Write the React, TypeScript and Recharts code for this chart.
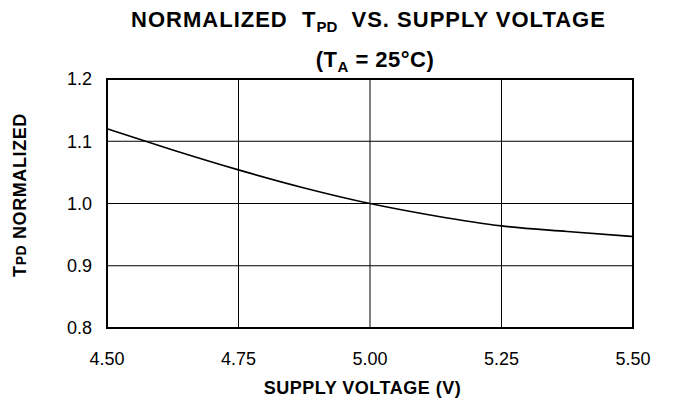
import { LineChart, Line, XAxis, YAxis, CartesianGrid, ReferenceArea } from "recharts";

const voltage = [4.5, 4.625, 4.75, 4.875, 5.0, 5.125, 5.25, 5.375, 5.5];
const tpdNormalized = [1.12, 1.086, 1.054, 1.025, 1.0, 0.98, 0.964, 0.955, 0.947];
const xTicks = [4.5, 4.75, 5.0, 5.25, 5.5];
const yTicks = [0.8, 0.9, 1.0, 1.1, 1.2];

const data = voltage.map((v, i) => ({ v, tpd: tpdNormalized[i] }));

const FONT = "'Liberation Sans', Arial, Helvetica, sans-serif";

export default function App() {
  return (
    <div style={{ position: "absolute", left: 0, top: 0, width: 673, height: 402, background: "#fff", fontFamily: FONT }}>
      <div
        style={{
          position: "absolute",
          left: 0,
          width: 737,
          top: 7,
          textAlign: "center",
          fontSize: 22,
          fontWeight: "bold",
          letterSpacing: 1,
          lineHeight: "26px",
          whiteSpace: "nowrap",
        }}
      >
        NORMALIZED&nbsp; T<sub style={{ fontSize: 15, verticalAlign: -5, letterSpacing: 0 }}>PD</sub>&nbsp; VS. SUPPLY VOLTAGE
      </div>
      <div
        style={{
          position: "absolute",
          left: 0,
          width: 750,
          top: 47,
          textAlign: "center",
          fontSize: 22,
          fontWeight: "bold",
          letterSpacing: 0.5,
          lineHeight: "26px",
          whiteSpace: "nowrap",
        }}
      >
        (T<sub style={{ fontSize: 15, verticalAlign: -5 }}>A</sub> = 25°C)
      </div>
      <LineChart width={673} height={402} data={data} margin={{ top: 79, right: 40, bottom: 44, left: 47 }}>
        <CartesianGrid stroke="#000" strokeWidth={1} />
        <XAxis
          dataKey="v"
          type="number"
          domain={[4.5, 5.5]}
          ticks={xTicks}
          tickFormatter={(t: number) => t.toFixed(2)}
          tickLine={false}
          axisLine={false}
          tickSize={0}
          tickMargin={24}
          height={30}
          tick={{ fill: "#000", fontSize: 18, fontFamily: FONT }}
          interval={0}
        />
        <YAxis
          type="number"
          domain={[0.8, 1.2]}
          ticks={yTicks}
          tickFormatter={(t: number) => t.toFixed(1)}
          tickLine={false}
          axisLine={false}
          tickSize={0}
          tickMargin={15}
          tick={{ fill: "#000", fontSize: 18, fontFamily: FONT }}
          width={60}
          interval={0}
        />
        <ReferenceArea x1={4.5} x2={5.5} y1={0.8} y2={1.2} fill="none" stroke="#000" strokeWidth={2} />
        <Line
          type="monotone"
          dataKey="tpd"
          stroke="#000"
          strokeWidth={1.6}
          dot={false}
          isAnimationActive={false}
        />
      </LineChart>
      <div
        style={{
          position: "absolute",
          left: 0,
          width: 725,
          top: 377,
          textAlign: "center",
          fontSize: 18,
          fontWeight: "bold",
          letterSpacing: 0.5,
          whiteSpace: "nowrap",
          lineHeight: "22px",
        }}
      >
        SUPPLY VOLTAGE (V)
      </div>
      <div
        style={{
          position: "absolute",
          left: 20,
          top: 195,
          transform: "translate(-50%, -50%) rotate(-90deg)",
          fontSize: 18,
          fontWeight: "bold",
          letterSpacing: 0.6,
          whiteSpace: "nowrap",
          lineHeight: "20px",
        }}
      >
        T<span style={{ fontSize: 14 }}>PD</span> NORMALIZED
      </div>
    </div>
  );
}
